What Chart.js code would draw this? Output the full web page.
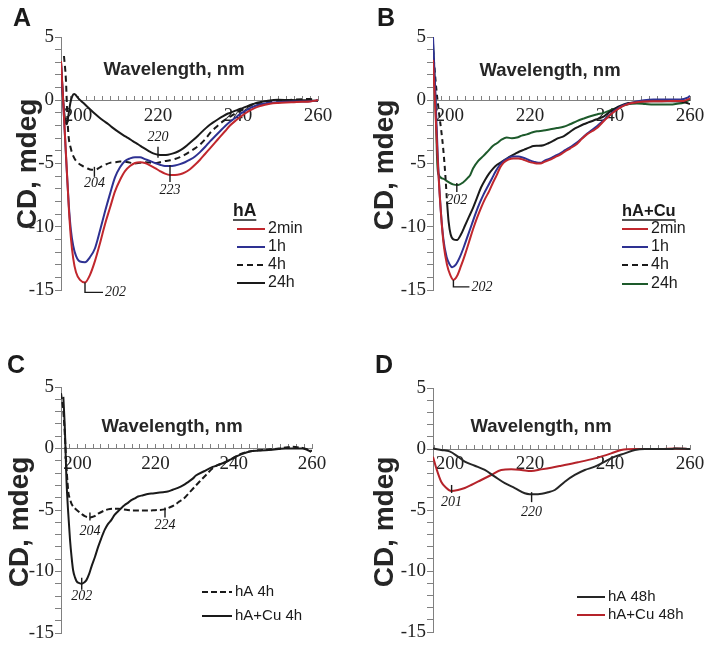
<!DOCTYPE html>
<html><head><meta charset="utf-8">
<script src="https://cdn.jsdelivr.net/npm/chart.js@4.4.1/dist/chart.umd.min.js"></script>
<style>
html,body{margin:0;padding:0;background:#fff;}
#wrap{position:relative;width:715px;height:650px;overflow:hidden;background:#fff;}
canvas{position:absolute;}
</style></head><body>
<div id="wrap">
<canvas id="cA" width="357" height="320" style="left:0;top:0"></canvas>
<canvas id="cB" width="358" height="320" style="left:357px;top:0"></canvas>
<canvas id="cC" width="357" height="330" style="left:0;top:320px"></canvas>
<canvas id="cD" width="358" height="330" style="left:357px;top:320px"></canvas>
</div>
<script>
// ---------------- DATA ----------------
const xTickLabels = [200, 220, 240, 260];
const yTickLabels = [5, 0, -5, -10, -15];
const xTitle = 'Wavelength, nm';
const yTitle = 'CD, mdeg';

// Panel A: hA  ([wavelength nm, CD mdeg])
const hA_2min = [[195.75,3.1],[196.2,0.5],[196.7,-2.5],[197.2,-5.5],[197.7,-8.5],[198.2,-10.8],[198.8,-12.5],[199.5,-13.6],[200.5,-14.2],[201.75,-14.4],[203,-13.8],[204.25,-12.7],[205.5,-11.3],[206.75,-9.8],[208,-8.5],[209.25,-7.2],[210.5,-6.3],[211.75,-5.6],[213,-5.2],[214.25,-4.96],[215.5,-4.9],[216.75,-4.96],[218,-5.15],[219.25,-5.36],[220.5,-5.6],[221.75,-5.8],[223,-5.9],[224.25,-5.9],[225.5,-5.85],[226.75,-5.7],[228,-5.45],[229.25,-5.1],[230.5,-4.7],[231.75,-4.25],[233,-3.8],[234.25,-3.35],[235.5,-2.9],[236.75,-2.45],[238,-2.0],[239.25,-1.65],[240.5,-1.35],[241.75,-1.05],[243,-0.8],[244.25,-0.6],[245.5,-0.45],[246.75,-0.35],[248,-0.28],[250,-0.22],[252,-0.18],[254,-0.15],[256,-0.12],[258,-0.1],[259,-0.05],[260,0]];
const hA_1h = [[195.75,3.0],[196.2,0.4],[196.7,-2.6],[197.2,-5.6],[197.7,-8.3],[198.2,-10.2],[198.8,-11.5],[199.5,-12.3],[200.5,-12.75],[201.75,-12.8],[203,-12.4],[204.25,-11.7],[205.5,-10.3],[206.75,-8.8],[208,-7.4],[209.25,-6.1],[210.5,-5.3],[211.75,-4.8],[213,-4.6],[214.25,-4.5],[215.5,-4.5],[216.75,-4.65],[218,-4.8],[219.25,-4.96],[220.5,-5.1],[221.75,-5.2],[223,-5.2],[224.25,-5.15],[225.5,-5.05],[226.75,-4.9],[228,-4.7],[229.25,-4.45],[230.5,-4.1],[231.75,-3.7],[233,-3.25],[234.25,-2.85],[235.5,-2.45],[236.75,-2.05],[238,-1.7],[239.25,-1.4],[240.5,-1.1],[241.75,-0.85],[243,-0.62],[244.25,-0.45],[245.5,-0.33],[246.75,-0.25],[248,-0.2],[250,-0.15],[252,-0.12],[254,-0.1],[256,-0.1],[258,-0.08],[260,0]];
const hA_4h = [[196.5,3.5],[197,1.5],[197.3,-1.0],[197.6,-2.7],[198.2,-3.8],[198.8,-4.4],[199.8,-4.9],[200.9,-5.15],[202.1,-5.35],[203.4,-5.5],[204.25,-5.5],[205.5,-5.3],[206.75,-5.1],[208,-4.95],[209.25,-4.9],[210.5,-4.85],[211.75,-4.86],[213,-4.93],[214.25,-5.0],[215.5,-4.95],[216.75,-4.9],[218,-4.93],[219.25,-4.96],[220.5,-4.9],[221.75,-4.8],[223,-4.75],[224.25,-4.65],[225.5,-4.5],[226.75,-4.3],[228,-4.05],[229.25,-3.8],[230.5,-3.5],[231.75,-3.1],[233,-2.6],[234.25,-2.2],[235.5,-1.85],[236.75,-1.55],[238,-1.3],[239.25,-1.05],[240.5,-0.85],[241.75,-0.65],[243,-0.45],[244.25,-0.33],[245.5,-0.22],[246.75,-0.15],[248,-0.08],[250,-0.04],[252,0],[254,0.05],[256,0.08],[258,0.1],[259,0.05],[260,-0.05]];
const hA_24h = [[195.75,3.0],[196.3,0.0],[196.8,-1.6],[197.2,-1.9],[197.6,-1.2],[198.1,-0.2],[198.6,0.35],[199.1,0.5],[199.6,0.35],[200.1,0.15],[201.3,-0.2],[202.6,-0.6],[203.8,-0.95],[205.1,-1.3],[206.3,-1.6],[207.6,-1.9],[208.8,-2.2],[210.1,-2.5],[211.3,-2.75],[212.6,-3.0],[213.8,-3.25],[215.1,-3.5],[216.3,-3.75],[217.6,-4.0],[218.8,-4.2],[220,-4.3],[221.3,-4.32],[222.5,-4.3],[223.8,-4.2],[225,-4.05],[226.3,-3.8],[227.5,-3.5],[228.8,-3.15],[230,-2.8],[231.3,-2.4],[232.5,-2.05],[233.8,-1.75],[235,-1.5],[236.3,-1.25],[237.5,-1.05],[238.8,-0.9],[240,-0.75],[241.3,-0.6],[242.5,-0.45],[243.8,-0.3],[245,-0.18],[246.3,-0.1],[247.5,-0.03],[250,0.04],[252.5,0.02],[255,0],[257.5,0],[260,-0.05]];

// Panel B: hA+Cu
const hACu_2min = [[195.8,3.2],[196.5,-1.5],[197.1,-5.5],[197.8,-9.0],[198.5,-11.5],[199.3,-13.0],[200.1,-13.8],[200.9,-14.2],[201.8,-13.9],[202.8,-13.1],[203.8,-12.2],[204.8,-11.2],[205.8,-10.2],[206.8,-9.3],[207.8,-8.5],[208.8,-7.8],[209.8,-7.2],[210.8,-6.5],[211.75,-5.9],[212.6,-5.3],[213.4,-4.95],[214.6,-4.7],[215.9,-4.6],[217.1,-4.6],[218.4,-4.7],[219.6,-4.85],[220.9,-4.95],[222.1,-5.0],[222.6,-5.0],[223.8,-4.85],[225.1,-4.7],[226.3,-4.5],[227.6,-4.3],[228.8,-4.05],[230.1,-3.8],[231.75,-3.45],[233,-3.05],[234.25,-2.7],[235.5,-2.45],[236.75,-2.2],[238,-1.8],[239.25,-1.4],[240.5,-1.05],[241.75,-0.75],[243,-0.5],[244.25,-0.34],[245.5,-0.22],[246.75,-0.16],[248.5,-0.1],[250.9,-0.08],[253,-0.08],[255.1,-0.06],[257,-0.05],[258.4,-0.05],[259.4,0.05],[260,0.15]];
const hACu_1h = [[195.8,5.0],[196.4,0.5],[197,-4.5],[197.7,-8.5],[198.4,-11.0],[199.2,-12.4],[200,-13.0],[200.6,-13.2],[201.5,-13.0],[202.5,-12.4],[203.5,-11.6],[204.5,-10.7],[205.5,-9.8],[206.5,-8.9],[207.5,-8.1],[208.5,-7.4],[209.5,-6.8],[210.5,-6.2],[211.5,-5.6],[212.5,-5.1],[213.4,-4.8],[214.6,-4.55],[215.9,-4.45],[217.1,-4.45],[218.4,-4.55],[219.6,-4.7],[220.9,-4.85],[222.1,-4.95],[222.6,-4.95],[223.8,-4.75],[225.1,-4.6],[226.3,-4.4],[227.6,-4.2],[228.8,-3.95],[230.1,-3.7],[231.75,-3.35],[233,-3.0],[234.25,-2.65],[235.5,-2.35],[236.75,-2.05],[238,-1.7],[239.25,-1.35],[240.5,-1.0],[241.75,-0.7],[243,-0.45],[244.25,-0.3],[245.5,-0.2],[246.75,-0.1],[248.5,0.0],[250.9,0.05],[253,0.05],[255.1,0.05],[257,0.05],[258.4,0.1],[259.4,0.2],[260,0.35]];
const hACu_4h = [[195.8,4.0],[196.6,1.0],[197.3,-1.0],[197.9,-2.5],[198.4,-4.0],[198.9,-6.0],[199.3,-8.0],[199.7,-9.6],[200.2,-10.6],[200.9,-11.0],[201.8,-11.05],[202.8,-10.6],[203.8,-9.9],[204.8,-9.2],[205.8,-8.5],[206.8,-7.7],[207.8,-6.9],[208.8,-6.3],[209.8,-5.8],[210.8,-5.4],[211.8,-5.1],[212.8,-4.9],[213.8,-4.7],[215,-4.45],[216.2,-4.25],[217.4,-4.05],[218.6,-3.9],[219.8,-3.75],[220.9,-3.62],[222.1,-3.6],[223.4,-3.55],[224.6,-3.4],[225.9,-3.2],[227.1,-3.0],[228.4,-2.85],[229.6,-2.6],[230.9,-2.3],[232.1,-2.1],[233.4,-1.9],[234.6,-1.75],[235.9,-1.6],[237.1,-1.45],[238.4,-1.3],[239.6,-1.0],[240.9,-0.74],[242.1,-0.5],[243.4,-0.34],[244.6,-0.22],[246,-0.18],[247.5,-0.12],[250,-0.08],[252.5,-0.08],[255,-0.08],[257.5,-0.1],[259,-0.2],[260,-0.3]];
const hACu_24h = [[195.8,4.5],[196.4,0],[196.8,-4.5],[197.1,-5.8],[198.3,-6.2],[199.6,-6.45],[200.8,-6.65],[202.1,-6.7],[203.3,-6.5],[204.6,-6.1],[205.1,-5.9],[205.8,-5.4],[207.1,-4.8],[208.4,-4.4],[209.6,-4.0],[210.8,-3.6],[211.75,-3.4],[213,-3.1],[214.2,-2.95],[215.5,-3.0],[216.75,-2.95],[218,-2.8],[219.25,-2.7],[220.5,-2.55],[221.75,-2.45],[223.4,-2.4],[225.1,-2.3],[226.75,-2.2],[228.4,-2.1],[230,-1.9],[231.75,-1.65],[233.4,-1.45],[235.1,-1.26],[236.75,-1.12],[238.4,-1.0],[240,-0.8],[241.75,-0.6],[243,-0.45],[244.25,-0.34],[245.5,-0.28],[246.75,-0.26],[248.8,-0.3],[250.9,-0.34],[253,-0.34],[255.1,-0.34],[256.8,-0.28],[258.4,-0.2],[259.3,-0.05],[260,0.05]];

// Panel C: 4h comparison
const cmp_hA_4h = [[195.8,4.5],[196.4,3.0],[196.8,1.0],[197.2,-1.5],[197.7,-3.6],[198.1,-4.1],[198.5,-4.5],[199.3,-4.85],[200.2,-5.1],[201,-5.3],[201.9,-5.5],[203.2,-5.6],[204.4,-5.5],[205.3,-5.3],[206.5,-5.1],[207.8,-4.95],[209.1,-4.9],[210.4,-4.9],[211.6,-4.95],[212.9,-5.0],[214.2,-5.05],[215.5,-5.05],[216.8,-5.05],[218,-5.05],[219.3,-5.03],[220.6,-5.0],[222.3,-4.95],[223.5,-4.8],[224.8,-4.6],[226.1,-4.3],[227.3,-4.05],[228.6,-3.6],[229.9,-3.15],[231.2,-2.7],[232.9,-2.15],[234.6,-1.6],[236.3,-1.3],[237.95,-1.1],[239.7,-0.8],[241.4,-0.5],[243,-0.32],[244.7,-0.2],[246.4,-0.14],[248.1,-0.1],[249.8,-0.05],[251.5,0],[253.2,0.08],[254.9,0.14],[256.2,0.1],[257.5,0.05],[258.7,-0.05],[260,-0.2]];
const cmp_hACu_4h = [[196.4,4.2],[196.8,1.5],[197.2,-2.6],[197.6,-5.0],[198.1,-7.4],[198.5,-8.8],[198.9,-9.9],[199.4,-10.5],[199.8,-10.8],[200.5,-10.95],[201.1,-11.0],[201.7,-10.9],[202.3,-10.7],[203,-10.2],[203.6,-9.6],[204.5,-8.8],[205.3,-8.0],[206.1,-7.3],[207,-6.6],[207.8,-6.15],[208.7,-5.8],[209.5,-5.4],[210.4,-5.1],[211.2,-4.85],[212.1,-4.6],[213,-4.4],[213.8,-4.2],[214.7,-4.05],[215.5,-3.9],[216.8,-3.8],[218,-3.7],[219.3,-3.65],[220.6,-3.6],[221.9,-3.55],[223.1,-3.5],[224.4,-3.35],[225.7,-3.2],[227,-3.0],[228.2,-2.75],[229.5,-2.45],[230.3,-2.2],[232.4,-1.85],[234.6,-1.5],[236.3,-1.3],[237.95,-1.1],[239.7,-0.8],[241.4,-0.54],[243,-0.35],[244.7,-0.2],[246.4,-0.17],[248.1,-0.14],[249.8,-0.1],[251.5,-0.05],[253.2,0],[254.9,0],[256.2,0],[257.5,0],[258.7,-0.1],[259.8,-0.27]];

// Panel D: 48h comparison
const cmp_hA_48h = [[195.75,0.05],[197.8,-0.08],[199.9,-0.2],[202,-0.63],[203.7,-1.04],[206.2,-1.37],[208.7,-1.72],[211.2,-2.27],[213.7,-2.8],[216.2,-3.2],[218.7,-3.63],[219.9,-3.7],[222,-3.7],[224.5,-3.55],[226.2,-3.36],[228.7,-2.68],[231.2,-2.13],[233.7,-1.72],[236.2,-1.45],[238.7,-1.04],[241.2,-0.63],[243.7,-0.36],[246.2,-0.08],[248.7,0],[252.8,0],[255.5,0],[256.2,0.05],[260,0]];
const cmp_hACu_48h = [[195.75,-0.63],[196.6,-1.6],[197.8,-2.68],[199.1,-3.2],[200.3,-3.44],[202,-3.36],[203.7,-3.2],[205.3,-2.95],[207.8,-2.54],[210.3,-2.13],[212.8,-1.72],[215.3,-1.67],[217.8,-1.72],[220.3,-1.8],[222.8,-1.67],[225.3,-1.53],[227.8,-1.37],[232,-1.09],[236.2,-0.77],[240.3,-0.36],[242.8,-0.08],[246.2,0],[252.8,0],[256.2,0.05],[260,0]];

// peak labels: [wavelength, CD, text]
const peaksA = [[220,-4.3,'220'],[223,-5.9,'223'],[204.1,-5.5,'204'],[201.75,-14.4,'202']];
const peaksB = [[201.75,-6.7,'202'],[200.9,-14.2,'202']];
const peaksC = [[203.2,-5.6,'204'],[222.4,-4.95,'224'],[201.1,-11.0,'202']];
const peaksD = [[200.4,-3.44,'201'],[220.4,-3.7,'220']];

// ---------------- STYLE / LAYOUT ----------------
const RED = '#c1272d', BLUE = '#2e3192', BLACK = '#1a1a1a', GREEN = '#1d5a2b';
const AXIS = '#808080';

const panels = [
  { id:'cA', letter:'A', xMin:195.75, area:{left:61, top:37, right:318, bottom:290},
    letterPos:[13,19], xTitlePos:[174,70], yTitlePos:[28,164],
    series:[
      {label:'2min', d:hA_2min, color:RED},
      {label:'1h', d:hA_1h, color:BLUE},
      {label:'4h', d:hA_4h, color:BLACK, dash:[6,4]},
      {label:'24h', d:hA_24h, color:BLACK}
    ],
    legend:{title:'hA', titlePos:[233,211], titleFont:17.5, rows:[229,247,265,283], x1:237, x2:265, tx:268, font:16, order:[0,1,2,3]},
    peaks:peaksA,
    peakStyle:[{up:8,down:3,dy:-17},{up:10,down:7,dy:15},{up:3,down:7,dy:13},{bracket:true,down:10,len:18}]
  },
  { id:'cB', letter:'B', xMin:195.8, area:{left:76, top:37, right:333, bottom:290},
    letterPos:[20,19], xTitlePos:[193,71], yTitlePos:[28,165],
    series:[
      {label:'2min', d:hACu_2min, color:RED},
      {label:'1h', d:hACu_1h, color:BLUE},
      {label:'4h', d:hACu_4h, color:BLACK, dashBelow:199.6, legendDash:[6,4]},
      {label:'24h', d:hACu_24h, color:GREEN}
    ],
    legend:{title:'hA+Cu', titlePos:[265,211], titleFont:16.5, rows:[229,247,265,284], x1:265, x2:291, tx:294, font:16, order:[0,1,2,3]},
    peaks:peaksB,
    peakStyle:[{up:2,down:7,dy:15},{bracket:true,down:7,len:16}]
  },
  { id:'cC', letter:'C', xMin:195.8, area:{left:61, top:67, right:312, bottom:313},
    letterPos:[7,46], xTitlePos:[172,107], yTitlePos:[20,202],
    series:[
      {label:'hA 4h', d:cmp_hA_4h, color:BLACK, dash:[6,3]},
      {label:'hA+Cu 4h', d:cmp_hACu_4h, color:BLACK}
    ],
    legend:{title:null, rows:[272,296], x1:202, x2:232, tx:235, font:15, order:[0,1]},
    peaks:peaksC,
    peakStyle:[{up:5,down:3,dy:14},{up:2,down:8,dy:16},{up:6,down:6,dy:13}]
  },
  { id:'cD', letter:'D', xMin:195.75, area:{left:76, top:68, right:333, bottom:312},
    letterPos:[18,46], xTitlePos:[184,107], yTitlePos:[28,202],
    series:[
      {label:'hA 48h', d:cmp_hA_48h, color:'#262626'},
      {label:'hA+Cu 48h', d:cmp_hACu_48h, color:'#b5232a'}
    ],
    legend:{title:null, rows:[277,295], x1:220, x2:248, tx:251, font:15, order:[0,1]},
    peaks:peaksD,
    peakStyle:[{up:6,down:2,dy:11},{up:2,down:8,dy:18}]
  }
];

function textPlugin(p) {
  return {
    id: 'panelText' + p.id,
    afterDraw(chart) {
      const ctx = chart.ctx;
      const xs = chart.scales.x, ys = chart.scales.y;
      ctx.save();
      ctx.fillStyle = '#1a1a1a';
      ctx.strokeStyle = '#1a1a1a';
      // panel letter
      ctx.font = 'bold 25px "Liberation Sans", Arial, sans-serif';
      ctx.textAlign = 'left'; ctx.textBaseline = 'middle';
      ctx.fillText(p.letter, p.letterPos[0], p.letterPos[1]);
      // axis titles
      ctx.font = 'bold 18.5px "Liberation Sans", Arial, sans-serif';
      ctx.textAlign = 'center';
      ctx.fillStyle = '#262626';
      ctx.fillText(xTitle, p.xTitlePos[0], p.xTitlePos[1]);
      ctx.save();
      ctx.translate(p.yTitlePos[0], p.yTitlePos[1]);
      ctx.rotate(-Math.PI / 2);
      ctx.font = 'bold 28px "Liberation Sans", Arial, sans-serif';
      ctx.fillText(yTitle, 0, 0);
      ctx.restore();
      // peak labels
      ctx.fillStyle = '#1a1a1a';
      ctx.lineWidth = 1.4;
      ctx.font = 'italic 14px "Liberation Serif", "Times New Roman", serif';
      p.peaks.forEach((pk, i) => {
        const st = p.peakStyle[i];
        const px = xs.getPixelForValue(pk[0]);
        const py = ys.getPixelForValue(pk[1]);
        ctx.beginPath();
        if (st.bracket) {
          ctx.moveTo(px, py); ctx.lineTo(px, py + st.down); ctx.lineTo(px + st.len, py + st.down);
          ctx.stroke();
          ctx.textAlign = 'left'; ctx.textBaseline = 'middle';
          ctx.fillText(pk[2], px + st.len + 2, py + st.down);
        } else {
          ctx.moveTo(px, py - st.up); ctx.lineTo(px, py + st.down);
          ctx.stroke();
          ctx.textAlign = 'center'; ctx.textBaseline = 'middle';
          ctx.fillText(pk[2], px, py + st.dy);
        }
      });
      // legend
      const lg = p.legend;
      if (lg.title) {
        ctx.font = 'bold ' + lg.titleFont + 'px "Liberation Sans", Arial, sans-serif';
        ctx.textAlign = 'left'; ctx.textBaseline = 'middle';
        ctx.fillText(lg.title, lg.titlePos[0], lg.titlePos[1]);
        const w = ctx.measureText(lg.title).width;
        ctx.beginPath(); ctx.lineWidth = 1.5;
        ctx.moveTo(lg.titlePos[0], lg.titlePos[1] + 9); ctx.lineTo(lg.titlePos[0] + w, lg.titlePos[1] + 9);
        ctx.stroke();
      }
      ctx.font = lg.font + 'px "Liberation Sans", Arial, sans-serif';
      lg.order.forEach((di, r) => {
        const ds = chart.data.datasets[di];
        const s = p.series[di];
        const y = lg.rows[r];
        ctx.save();
        ctx.strokeStyle = ds.borderColor;
        ctx.lineWidth = 2;
        ctx.setLineDash(s.legendDash || ds.borderDash || []);
        ctx.beginPath(); ctx.moveTo(lg.x1, y); ctx.lineTo(lg.x2, y); ctx.stroke();
        ctx.restore();
        ctx.fillStyle = '#1a1a1a';
        ctx.textAlign = 'left'; ctx.textBaseline = 'middle';
        ctx.fillText(ds.label, lg.tx, y);
      });
      ctx.restore();
    }
  };
}

function makeChart(p) {
  const cv = document.getElementById(p.id);
  const W = cv.width, H = cv.height;
  const tickFont = { family: '"Liberation Serif", "Times New Roman", serif', size: 19 };
  return new Chart(cv, {
    type: 'line',
    data: {
      datasets: p.series.map(s => {
        const ds = {
          label: s.label,
          data: s.d.map(pt => ({ x: pt[0], y: pt[1] })),
          borderColor: s.color,
          borderWidth: 2,
          borderDash: s.dash || [],
          pointRadius: 0,
          fill: false,
          cubicInterpolationMode: 'monotone'
        };
        if (s.dashBelow) {
          ds.segment = { borderDash: ctx => (ctx.p1.parsed.x <= s.dashBelow ? [5, 4] : undefined) };
        }
        return ds;
      })
    },
    options: {
      responsive: false,
      animation: false,
      devicePixelRatio: 1,
      layout: { padding: { left: 0, top: p.area.top, right: W - p.area.right, bottom: H - p.area.bottom } },
      plugins: { legend: { display: false }, tooltip: { enabled: false } },
      scales: {
        x: {
          type: 'linear', min: p.xMin, max: 260, position: { y: 0 },
          ticks: {
            stepSize: 2, includeBounds: false, autoSkip: false, maxRotation: 0, maxTicksLimit: 100,
            padding: 9, font: tickFont, color: '#222',
            callback: v => (xTickLabels.includes(v) ? String(v) : '')
          },
          grid: { drawOnChartArea: false, tickLength: -5, color: AXIS, tickWidth: 1 },
          border: { color: AXIS, width: 1 }
        },
        y: {
          type: 'linear', min: -15, max: 5, position: 'left',
          afterFit: sc => { sc.width = p.area.left; },
          ticks: {
            stepSize: 1, autoSkip: false, maxTicksLimit: 100, padding: 1, font: tickFont, color: '#222',
            callback: v => (yTickLabels.includes(v) ? String(v) : '')
          },
          grid: { drawOnChartArea: false, tickLength: 6, color: AXIS, tickWidth: 1 },
          border: { color: AXIS, width: 1 }
        }
      }
    },
    plugins: [textPlugin(p)]
  });
}

panels.forEach(makeChart);
</script>
</body></html>
